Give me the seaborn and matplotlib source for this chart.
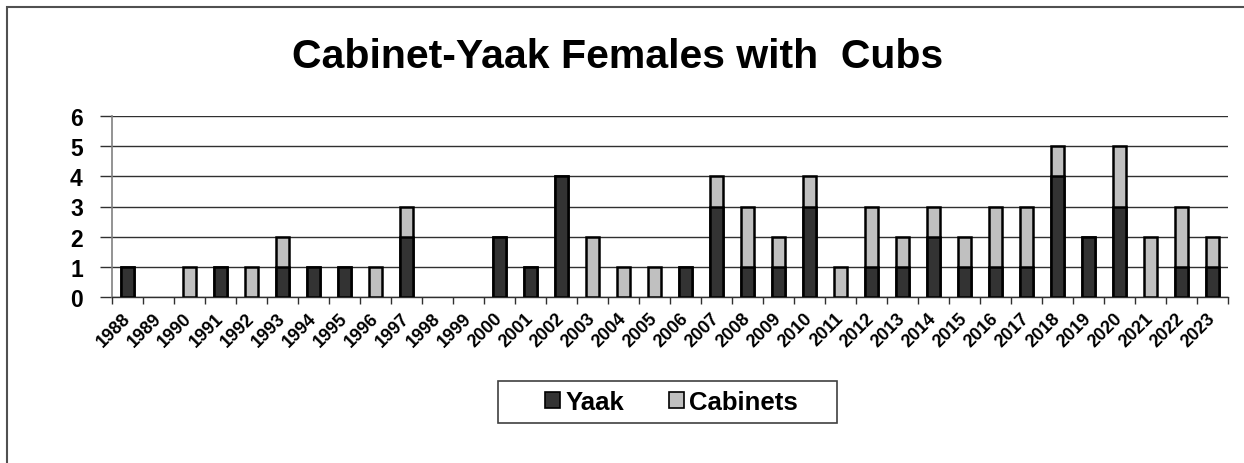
import numpy as np
import pandas as pd
import matplotlib
matplotlib.use("Agg")
import matplotlib.pyplot as plt
import matplotlib.transforms as mtrans
import seaborn as sns
from matplotlib.patches import Rectangle, Patch

years = [str(y) for y in range(1988, 2024)]
yaak = [1, 0, 0, 1, 0, 1, 1, 1, 0, 2, 0, 0, 2, 1, 4, 0, 0, 0, 1, 3, 1, 1, 3, 0,
        1, 1, 2, 1, 1, 1, 4, 2, 3, 0, 1, 1]
cabinets = [0, 0, 1, 0, 1, 1, 0, 0, 1, 1, 0, 0, 0, 0, 0, 2, 1, 1, 0, 1, 2, 1, 1, 1,
            2, 1, 1, 1, 2, 2, 1, 0, 2, 2, 2, 1]
title = "Cabinet-Yaak Females with  Cubs"
series_names = ["Yaak", "Cabinets"]
yticks = [0, 1, 2, 3, 4, 5, 6]

dark = "#333333"
light = "#C0C0C0"

sns.set_theme(style="white")
plt.rcParams["font.family"] = ["Liberation Sans", "DejaVu Sans"]
plt.rcParams["text.color"] = "black"
plt.rcParams["xtick.color"] = "black"
plt.rcParams["ytick.color"] = "black"

df = pd.DataFrame({"year": years, "Yaak": yaak, "Cabinets": cabinets})
df["total"] = df["Yaak"] + df["Cabinets"]

W, H = 1244, 464
fig = plt.figure(figsize=(W / 100, H / 100), dpi=100)
ax = fig.add_axes([112 / W, 1 - 298 / H, (1228 - 112) / W, (298 - 117) / H])

# stacked: total in light, Yaak overlaid in dark
sns.barplot(data=df, x="year", y="total", color=light, width=0.4,
            edgecolor="black", linewidth=1.8, saturation=1, ax=ax, zorder=3)
sns.barplot(data=df, x="year", y="Yaak", color=dark, width=0.4,
            edgecolor="black", linewidth=1.8, saturation=1, ax=ax, zorder=4)
for p in ax.patches:
    if p.get_height() == 0:
        p.set_visible(False)

ax.set_xlim(-0.5, len(years) - 0.5)
ax.set_ylim(0, 6)
ax.set_yticks(yticks)
ax.set_yticklabels([str(t) for t in yticks], fontsize=16.5, fontweight="bold")
ax.set_xlabel("")
ax.set_ylabel("")
for y in yticks:
    ax.axhline(y, color="#303030", lw=1.0, zorder=1)

ax.tick_params(axis="y", which="major", direction="out", length=9, width=1,
               color="#303030", pad=12, left=True, labelcolor="black")
ax.tick_params(axis="x", which="major", length=0, pad=13, labelcolor="black")
ax.set_xticks(np.arange(-0.5, len(years)), minor=True)
ax.tick_params(axis="x", which="minor", direction="out", length=5, width=1,
               color="#303030", bottom=True)
ax.set_xticks(range(len(years)))
ax.set_xticklabels(years, rotation=45, ha="right", va="center",
                   rotation_mode="anchor", fontsize=13, fontweight="bold")
off = mtrans.ScaledTranslation(0 / 100, 0, fig.dpi_scale_trans)
for lbl in ax.get_xticklabels():
    lbl.set_transform(lbl.get_transform() + off)

for s in ["top", "right"]:
    ax.spines[s].set_visible(False)
ax.spines["left"].set_color("#808080")
ax.spines["left"].set_linewidth(1.2)
ax.spines["bottom"].set_color("#303030")
ax.spines["bottom"].set_linewidth(1.0)

fig.text(618 / W, 1 - 57 / H, title, ha="center", va="center",
         fontsize=29.5, fontweight="bold", color="black")

handles = [Patch(facecolor=dark, edgecolor="black", linewidth=1.2),
           Patch(facecolor=light, edgecolor="black", linewidth=1.2)]
leg = fig.legend(handles, series_names, loc="center",
                 bbox_to_anchor=(671.5 / W, 1 - 403 / H), ncol=2,
                 prop={"size": 18.5, "weight": "bold"}, frameon=False,
                 handlelength=0.58, handleheight=0.58, handletextpad=0.2,
                 columnspacing=1.75, borderpad=0.0)
for t in leg.get_texts():
    t.set_color("black")

# legend box (Excel-style wide frame)
fig.add_artist(Rectangle((498 / W, 1 - 424 / H), (837 - 498) / W, (424 - 382) / H,
                         transform=fig.transFigure, fill=False,
                         edgecolor="#404040", lw=1.2))

fig.add_artist(Rectangle((7 / W, -0.2), 1.2, 1 - 8 / H + 0.2,
                         transform=fig.transFigure, fill=False,
                         edgecolor="#505050", lw=1.5))

fig.savefig("out.png", dpi=100, facecolor="white")
